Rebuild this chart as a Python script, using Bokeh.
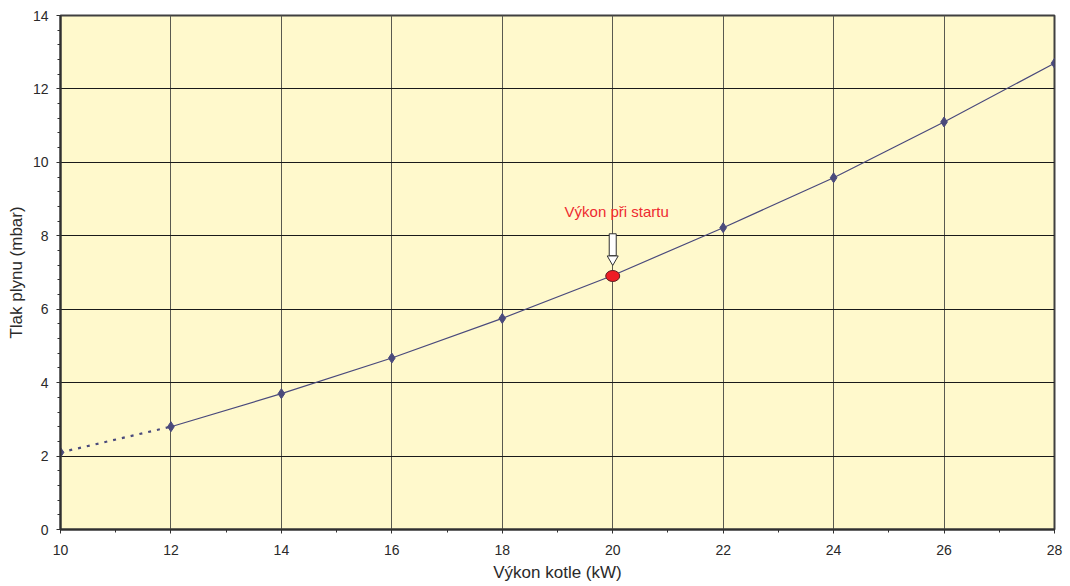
from bokeh.plotting import figure
from bokeh.models import Range1d, FixedTicker, Label
from bokeh.embed import file_html
from bokeh.resources import INLINE

# Data
power_kw = [10, 12, 14, 16, 18, 20, 22, 24, 26, 28]
pressure_mbar = [2.1, 2.8, 3.7, 4.67, 5.75, 6.92, 8.22, 9.58, 11.1, 12.7]
start_power = 20
start_pressure = 6.905
start_label = "Výkon při startu"
x_ticks = [10, 12, 14, 16, 18, 20, 22, 24, 26, 28]
y_ticks = [0, 2, 4, 6, 8, 10, 12, 14]

FONT = "Liberation Sans"
LINE_COL = "#4a4a7c"

p = figure(width=1070, height=586, output_backend="svg", toolbar_location=None,
           x_range=Range1d(10, 28), y_range=Range1d(0, 14),
           min_border_left=60, min_border_right=16, min_border_top=15, min_border_bottom=57)

p.border_fill_color = "#ffffff"
p.background_fill_color = "#fff9cc"
p.outline_line_color = "#404040"
p.outline_line_width = 2

# grid
p.xgrid.ticker = FixedTicker(ticks=x_ticks)
p.ygrid.ticker = FixedTicker(ticks=y_ticks)
p.xgrid.grid_line_color = "#5a5a50"
p.ygrid.grid_line_color = "#1a1a1a"
p.xgrid.grid_line_width = 1
p.ygrid.grid_line_width = 1

# axes
for ax in (p.xaxis[0], p.yaxis[0]):
    ax.axis_line_color = "#303030"
    ax.axis_line_width = 2
    ax.major_tick_line_color = "#303030"
    ax.minor_tick_line_color = "#303030"
    ax.major_tick_in = 0
    ax.minor_tick_in = 0
    ax.major_tick_out = 4
    ax.minor_tick_out = 3
    ax.major_label_text_font = FONT
    ax.major_label_text_font_size = "14px"
    ax.major_label_text_color = "#2a2a2a"
    ax.axis_label_text_font = FONT
    ax.axis_label_text_font_size = "17px"
    ax.axis_label_text_font_style = "normal"
    ax.axis_label_text_color = "#2a2a2a"

p.xaxis.ticker = FixedTicker(ticks=x_ticks, minor_ticks=[11, 13, 15, 17, 19, 21, 23, 25, 27])
y_minor = []
for a in y_ticks[:-1]:
    for k in (1, 2, 3, 4):
        y_minor.append(a + k * 0.4)
p.yaxis.ticker = FixedTicker(ticks=y_ticks, minor_ticks=y_minor)
p.xaxis.axis_label = "Výkon kotle (kW)"
p.yaxis.axis_label = "Tlak plynu (mbar)"
p.xaxis.major_label_standoff = 11
p.xaxis.axis_label_standoff = 5
p.yaxis.major_label_standoff = 8
p.yaxis.axis_label_standoff = 4

# series: dotted first segment, solid rest
p.line(power_kw[:2], pressure_mbar[:2], line_color=LINE_COL, line_width=2.2, line_dash="3 6")
p.line(power_kw[1:], pressure_mbar[1:], line_color=LINE_COL, line_width=1.2)
p.scatter(power_kw, pressure_mbar, marker="diamond", size=10, fill_color=LINE_COL, line_color=LINE_COL)

# start point annotation
p.ellipse(x=[start_power], y=[start_pressure], width=14, height=11,
          width_units="screen", height_units="screen",
          fill_color="#ee1c24", line_color="#5a2020", line_width=1)
p.rect(x=[start_power], y=[start_pressure + 0.85], width=7, height=0.6,
       width_units="screen", fill_color="white", line_color="#303030", line_width=1)
p.scatter(x=[start_power], y=[start_pressure + 0.46], marker="inverted_triangle", size=11,
          fill_color="white", line_color="#303030", line_width=1)
p.add_layout(Label(x=start_power, y=start_pressure + 1.77, text=start_label, x_offset=4,
                   text_font=FONT, text_font_size="15px", text_color="#ee2a30",
                   text_align="center", text_baseline="middle"))

open("out.html", "w").write(file_html(p, INLINE))
